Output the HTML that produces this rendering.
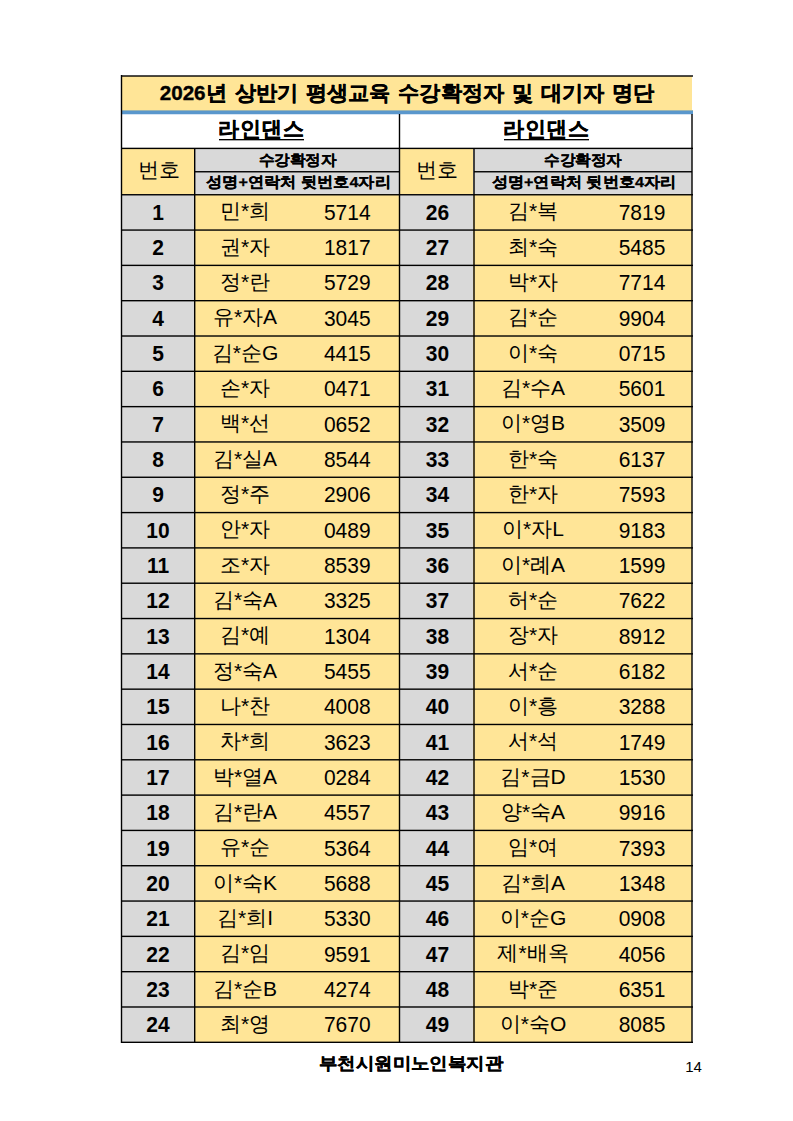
<!DOCTYPE html>
<html><head><meta charset="utf-8"><style>
html,body{margin:0;padding:0;background:#fff;}
body{width:793px;height:1121px;position:relative;overflow:hidden;font-family:"Liberation Sans",sans-serif;color:#000;}
.r{position:absolute;}
.t{position:absolute;text-align:center;white-space:nowrap;height:40px;line-height:40px;}
</style></head><body>
<div class="r" style="left:121px;top:76px;width:571px;height:34px;background:#FFE597;"></div><div class="r" style="left:121px;top:148px;width:73px;height:46px;background:#FFE597;"></div><div class="r" style="left:399px;top:148px;width:74px;height:46px;background:#FFE597;"></div><div class="r" style="left:194px;top:148px;width:205px;height:46px;background:#D9D9D9;"></div><div class="r" style="left:473px;top:148px;width:219px;height:46px;background:#D9D9D9;"></div><div class="r" style="left:121px;top:194px;width:73px;height:848px;background:#D9D9D9;"></div><div class="r" style="left:399px;top:194px;width:74px;height:848px;background:#D9D9D9;"></div><div class="r" style="left:194px;top:194px;width:205px;height:848px;background:#FFE597;"></div><div class="r" style="left:473px;top:194px;width:219px;height:849px;background:#FFE597;"></div><div class="r" style="left:121px;top:75px;width:572px;height:1px;background:rgba(0,0,0,0.70);"></div><div class="r" style="left:121px;top:76px;width:572px;height:1px;background:rgba(0,0,0,0.70);"></div><div class="r" style="left:121px;top:110px;width:572px;height:1px;background:#9DB5B0;"></div><div class="r" style="left:121px;top:111px;width:572px;height:3px;background:#5A97CC;"></div><div class="r" style="left:121px;top:114px;width:572px;height:1px;background:#D5E4F4;"></div><div class="r" style="left:121px;top:147px;width:572px;height:1px;background:rgba(0,0,0,0.30);"></div><div class="r" style="left:121px;top:148px;width:572px;height:1px;background:rgba(0,0,0,1.00);"></div><div class="r" style="left:121px;top:149px;width:572px;height:1px;background:rgba(0,0,0,0.10);"></div><div class="r" style="left:195px;top:171px;width:204px;height:1px;background:rgba(0,0,0,0.95);"></div><div class="r" style="left:195px;top:172px;width:204px;height:1px;background:rgba(0,0,0,0.45);"></div><div class="r" style="left:474px;top:171px;width:218px;height:1px;background:rgba(0,0,0,0.95);"></div><div class="r" style="left:474px;top:172px;width:218px;height:1px;background:rgba(0,0,0,0.45);"></div><div class="r" style="left:121px;top:194px;width:572px;height:1px;background:rgba(0,0,0,0.95);"></div><div class="r" style="left:121px;top:195px;width:572px;height:1px;background:rgba(0,0,0,0.45);"></div><div class="r" style="left:121px;top:229px;width:572px;height:1px;background:rgba(0,0,0,0.63);"></div><div class="r" style="left:121px;top:230px;width:572px;height:1px;background:rgba(0,0,0,0.76);"></div><div class="r" style="left:121px;top:264px;width:572px;height:1px;background:rgba(0,0,0,0.32);"></div><div class="r" style="left:121px;top:265px;width:572px;height:1px;background:rgba(0,0,0,1.00);"></div><div class="r" style="left:121px;top:266px;width:572px;height:1px;background:rgba(0,0,0,0.08);"></div><div class="r" style="left:121px;top:300px;width:572px;height:1px;background:rgba(0,0,0,1.00);"></div><div class="r" style="left:121px;top:301px;width:572px;height:1px;background:rgba(0,0,0,0.39);"></div><div class="r" style="left:121px;top:335px;width:572px;height:1px;background:rgba(0,0,0,0.69);"></div><div class="r" style="left:121px;top:336px;width:572px;height:1px;background:rgba(0,0,0,0.71);"></div><div class="r" style="left:121px;top:370px;width:572px;height:1px;background:rgba(0,0,0,0.38);"></div><div class="r" style="left:121px;top:371px;width:572px;height:1px;background:rgba(0,0,0,1.00);"></div><div class="r" style="left:121px;top:405px;width:572px;height:1px;background:rgba(0,0,0,0.06);"></div><div class="r" style="left:121px;top:406px;width:572px;height:1px;background:rgba(0,0,0,1.00);"></div><div class="r" style="left:121px;top:407px;width:572px;height:1px;background:rgba(0,0,0,0.34);"></div><div class="r" style="left:121px;top:441px;width:572px;height:1px;background:rgba(0,0,0,0.75);"></div><div class="r" style="left:121px;top:442px;width:572px;height:1px;background:rgba(0,0,0,0.65);"></div><div class="r" style="left:121px;top:476px;width:572px;height:1px;background:rgba(0,0,0,0.43);"></div><div class="r" style="left:121px;top:477px;width:572px;height:1px;background:rgba(0,0,0,0.97);"></div><div class="r" style="left:121px;top:511px;width:572px;height:1px;background:rgba(0,0,0,0.11);"></div><div class="r" style="left:121px;top:512px;width:572px;height:1px;background:rgba(0,0,0,1.00);"></div><div class="r" style="left:121px;top:513px;width:572px;height:1px;background:rgba(0,0,0,0.29);"></div><div class="r" style="left:121px;top:547px;width:572px;height:1px;background:rgba(0,0,0,0.80);"></div><div class="r" style="left:121px;top:548px;width:572px;height:1px;background:rgba(0,0,0,0.60);"></div><div class="r" style="left:121px;top:582px;width:572px;height:1px;background:rgba(0,0,0,0.49);"></div><div class="r" style="left:121px;top:583px;width:572px;height:1px;background:rgba(0,0,0,0.91);"></div><div class="r" style="left:121px;top:617px;width:572px;height:1px;background:rgba(0,0,0,0.17);"></div><div class="r" style="left:121px;top:618px;width:572px;height:1px;background:rgba(0,0,0,1.00);"></div><div class="r" style="left:121px;top:619px;width:572px;height:1px;background:rgba(0,0,0,0.23);"></div><div class="r" style="left:121px;top:653px;width:572px;height:1px;background:rgba(0,0,0,0.86);"></div><div class="r" style="left:121px;top:654px;width:572px;height:1px;background:rgba(0,0,0,0.55);"></div><div class="r" style="left:121px;top:688px;width:572px;height:1px;background:rgba(0,0,0,0.54);"></div><div class="r" style="left:121px;top:689px;width:572px;height:1px;background:rgba(0,0,0,0.86);"></div><div class="r" style="left:121px;top:723px;width:572px;height:1px;background:rgba(0,0,0,0.23);"></div><div class="r" style="left:121px;top:724px;width:572px;height:1px;background:rgba(0,0,0,1.00);"></div><div class="r" style="left:121px;top:725px;width:572px;height:1px;background:rgba(0,0,0,0.17);"></div><div class="r" style="left:121px;top:759px;width:572px;height:1px;background:rgba(0,0,0,0.91);"></div><div class="r" style="left:121px;top:760px;width:572px;height:1px;background:rgba(0,0,0,0.49);"></div><div class="r" style="left:121px;top:794px;width:572px;height:1px;background:rgba(0,0,0,0.60);"></div><div class="r" style="left:121px;top:795px;width:572px;height:1px;background:rgba(0,0,0,0.81);"></div><div class="r" style="left:121px;top:829px;width:572px;height:1px;background:rgba(0,0,0,0.28);"></div><div class="r" style="left:121px;top:830px;width:572px;height:1px;background:rgba(0,0,0,1.00);"></div><div class="r" style="left:121px;top:831px;width:572px;height:1px;background:rgba(0,0,0,0.12);"></div><div class="r" style="left:121px;top:865px;width:572px;height:1px;background:rgba(0,0,0,0.97);"></div><div class="r" style="left:121px;top:866px;width:572px;height:1px;background:rgba(0,0,0,0.43);"></div><div class="r" style="left:121px;top:900px;width:572px;height:1px;background:rgba(0,0,0,0.65);"></div><div class="r" style="left:121px;top:901px;width:572px;height:1px;background:rgba(0,0,0,0.75);"></div><div class="r" style="left:121px;top:935px;width:572px;height:1px;background:rgba(0,0,0,0.34);"></div><div class="r" style="left:121px;top:936px;width:572px;height:1px;background:rgba(0,0,0,1.00);"></div><div class="r" style="left:121px;top:937px;width:572px;height:1px;background:rgba(0,0,0,0.07);"></div><div class="r" style="left:121px;top:971px;width:572px;height:1px;background:rgba(0,0,0,1.00);"></div><div class="r" style="left:121px;top:972px;width:572px;height:1px;background:rgba(0,0,0,0.38);"></div><div class="r" style="left:121px;top:1006px;width:572px;height:1px;background:rgba(0,0,0,0.71);"></div><div class="r" style="left:121px;top:1007px;width:572px;height:1px;background:rgba(0,0,0,0.69);"></div><div class="r" style="left:121px;top:1041px;width:572px;height:1px;background:rgba(0,0,0,0.39);"></div><div class="r" style="left:121px;top:1042px;width:572px;height:1px;background:rgba(0,0,0,1.00);"></div><div class="r" style="left:120px;top:75px;width:1px;height:968px;background:rgba(0,0,0,0.20);"></div><div class="r" style="left:121px;top:75px;width:1px;height:968px;background:rgba(0,0,0,1.00);"></div><div class="r" style="left:122px;top:75px;width:1px;height:968px;background:rgba(0,0,0,0.20);"></div><div class="r" style="left:398px;top:114px;width:1px;height:929px;background:rgba(0,0,0,0.20);"></div><div class="r" style="left:399px;top:114px;width:1px;height:929px;background:rgba(0,0,0,1.00);"></div><div class="r" style="left:400px;top:114px;width:1px;height:929px;background:rgba(0,0,0,0.20);"></div><div class="r" style="left:691px;top:114px;width:1px;height:929px;background:rgba(0,0,0,0.70);"></div><div class="r" style="left:692px;top:114px;width:1px;height:929px;background:rgba(0,0,0,0.70);"></div><div class="r" style="left:194px;top:148px;width:1px;height:895px;background:rgba(0,0,0,1.00);"></div><div class="r" style="left:195px;top:148px;width:1px;height:895px;background:rgba(0,0,0,0.40);"></div><div class="r" style="left:473px;top:148px;width:1px;height:895px;background:rgba(0,0,0,0.70);"></div><div class="r" style="left:474px;top:148px;width:1px;height:895px;background:rgba(0,0,0,0.70);"></div><div class="t" style="left:86.75px;top:73.00px;width:640px;font-size:20.5px;font-weight:bold;transform:scaleX(1.008);word-spacing:2px;-webkit-text-stroke:0.35px #000;">2026년 상반기 평생교육 수강확정자 및 대기자 명단</div><div class="t" style="left:111.00px;top:109.00px;width:300px;font-size:21px;font-weight:bold;letter-spacing:0.5px;-webkit-text-stroke:0.3px #000;">라인댄스</div><div class="r" style="left:218.5px;top:139px;width:85px;height:1px;background:#000;"></div><div class="r" style="left:218.5px;top:140px;width:85px;height:1px;background:rgba(0,0,0,0.35);"></div><div class="t" style="left:396.00px;top:109.00px;width:300px;font-size:21px;font-weight:bold;letter-spacing:0.5px;-webkit-text-stroke:0.3px #000;">라인댄스</div><div class="r" style="left:503.5px;top:139px;width:85px;height:1px;background:#000;"></div><div class="r" style="left:503.5px;top:140px;width:85px;height:1px;background:rgba(0,0,0,0.35);"></div><div class="t" style="left:122.00px;top:150.00px;width:73px;font-size:20.5px;font-weight:normal;">번호</div><div class="t" style="left:190.00px;top:139.50px;width:215px;font-size:15px;font-weight:bold;transform:scaleX(1.04);-webkit-text-stroke:0.25px #000;">수강확정자</div><div class="t" style="left:185.50px;top:161.50px;width:225px;font-size:15px;font-weight:bold;transform:scaleX(1.078);-webkit-text-stroke:0.25px #000;">성명+연락처 뒷번호4자리</div><div class="t" style="left:400.00px;top:150.00px;width:74px;font-size:20.5px;font-weight:normal;">번호</div><div class="t" style="left:469.00px;top:139.50px;width:228px;font-size:15px;font-weight:bold;transform:scaleX(1.04);-webkit-text-stroke:0.25px #000;">수강확정자</div><div class="t" style="left:464.50px;top:161.50px;width:238px;font-size:15px;font-weight:bold;transform:scaleX(1.078);-webkit-text-stroke:0.25px #000;">성명+연락처 뒷번호4자리</div><div class="t" style="left:123.00px;top:192.67px;width:70px;font-size:21px;font-weight:bold;transform:scaleY(1.05);">1</div><div class="t" style="left:175.00px;top:191.17px;width:140px;font-size:21px;font-weight:normal;">민*희</div><div class="t" style="left:297.30px;top:192.67px;width:100px;font-size:21px;font-weight:normal;transform:scaleY(1.05);">5714</div><div class="t" style="left:123.00px;top:228.00px;width:70px;font-size:21px;font-weight:bold;transform:scaleY(1.05);">2</div><div class="t" style="left:175.00px;top:226.50px;width:140px;font-size:21px;font-weight:normal;">권*자</div><div class="t" style="left:297.30px;top:228.00px;width:100px;font-size:21px;font-weight:normal;transform:scaleY(1.05);">1817</div><div class="t" style="left:123.00px;top:263.33px;width:70px;font-size:21px;font-weight:bold;transform:scaleY(1.05);">3</div><div class="t" style="left:175.00px;top:261.83px;width:140px;font-size:21px;font-weight:normal;">정*란</div><div class="t" style="left:297.30px;top:263.33px;width:100px;font-size:21px;font-weight:normal;transform:scaleY(1.05);">5729</div><div class="t" style="left:123.00px;top:298.67px;width:70px;font-size:21px;font-weight:bold;transform:scaleY(1.05);">4</div><div class="t" style="left:175.00px;top:297.17px;width:140px;font-size:21px;font-weight:normal;">유*자A</div><div class="t" style="left:297.30px;top:298.67px;width:100px;font-size:21px;font-weight:normal;transform:scaleY(1.05);">3045</div><div class="t" style="left:123.00px;top:334.00px;width:70px;font-size:21px;font-weight:bold;transform:scaleY(1.05);">5</div><div class="t" style="left:175.00px;top:332.50px;width:140px;font-size:21px;font-weight:normal;">김*순G</div><div class="t" style="left:297.30px;top:334.00px;width:100px;font-size:21px;font-weight:normal;transform:scaleY(1.05);">4415</div><div class="t" style="left:123.00px;top:369.33px;width:70px;font-size:21px;font-weight:bold;transform:scaleY(1.05);">6</div><div class="t" style="left:175.00px;top:367.83px;width:140px;font-size:21px;font-weight:normal;">손*자</div><div class="t" style="left:297.30px;top:369.33px;width:100px;font-size:21px;font-weight:normal;transform:scaleY(1.05);">0471</div><div class="t" style="left:123.00px;top:404.67px;width:70px;font-size:21px;font-weight:bold;transform:scaleY(1.05);">7</div><div class="t" style="left:175.00px;top:403.17px;width:140px;font-size:21px;font-weight:normal;">백*선</div><div class="t" style="left:297.30px;top:404.67px;width:100px;font-size:21px;font-weight:normal;transform:scaleY(1.05);">0652</div><div class="t" style="left:123.00px;top:440.00px;width:70px;font-size:21px;font-weight:bold;transform:scaleY(1.05);">8</div><div class="t" style="left:175.00px;top:438.50px;width:140px;font-size:21px;font-weight:normal;">김*실A</div><div class="t" style="left:297.30px;top:440.00px;width:100px;font-size:21px;font-weight:normal;transform:scaleY(1.05);">8544</div><div class="t" style="left:123.00px;top:475.33px;width:70px;font-size:21px;font-weight:bold;transform:scaleY(1.05);">9</div><div class="t" style="left:175.00px;top:473.83px;width:140px;font-size:21px;font-weight:normal;">정*주</div><div class="t" style="left:297.30px;top:475.33px;width:100px;font-size:21px;font-weight:normal;transform:scaleY(1.05);">2906</div><div class="t" style="left:123.00px;top:510.67px;width:70px;font-size:21px;font-weight:bold;transform:scaleY(1.05);">10</div><div class="t" style="left:175.00px;top:509.17px;width:140px;font-size:21px;font-weight:normal;">안*자</div><div class="t" style="left:297.30px;top:510.67px;width:100px;font-size:21px;font-weight:normal;transform:scaleY(1.05);">0489</div><div class="t" style="left:123.00px;top:546.00px;width:70px;font-size:21px;font-weight:bold;transform:scaleY(1.05);">11</div><div class="t" style="left:175.00px;top:544.50px;width:140px;font-size:21px;font-weight:normal;">조*자</div><div class="t" style="left:297.30px;top:546.00px;width:100px;font-size:21px;font-weight:normal;transform:scaleY(1.05);">8539</div><div class="t" style="left:123.00px;top:581.33px;width:70px;font-size:21px;font-weight:bold;transform:scaleY(1.05);">12</div><div class="t" style="left:175.00px;top:579.83px;width:140px;font-size:21px;font-weight:normal;">김*숙A</div><div class="t" style="left:297.30px;top:581.33px;width:100px;font-size:21px;font-weight:normal;transform:scaleY(1.05);">3325</div><div class="t" style="left:123.00px;top:616.67px;width:70px;font-size:21px;font-weight:bold;transform:scaleY(1.05);">13</div><div class="t" style="left:175.00px;top:615.17px;width:140px;font-size:21px;font-weight:normal;">김*예</div><div class="t" style="left:297.30px;top:616.67px;width:100px;font-size:21px;font-weight:normal;transform:scaleY(1.05);">1304</div><div class="t" style="left:123.00px;top:652.00px;width:70px;font-size:21px;font-weight:bold;transform:scaleY(1.05);">14</div><div class="t" style="left:175.00px;top:650.50px;width:140px;font-size:21px;font-weight:normal;">정*숙A</div><div class="t" style="left:297.30px;top:652.00px;width:100px;font-size:21px;font-weight:normal;transform:scaleY(1.05);">5455</div><div class="t" style="left:123.00px;top:687.33px;width:70px;font-size:21px;font-weight:bold;transform:scaleY(1.05);">15</div><div class="t" style="left:175.00px;top:685.83px;width:140px;font-size:21px;font-weight:normal;">나*찬</div><div class="t" style="left:297.30px;top:687.33px;width:100px;font-size:21px;font-weight:normal;transform:scaleY(1.05);">4008</div><div class="t" style="left:123.00px;top:722.67px;width:70px;font-size:21px;font-weight:bold;transform:scaleY(1.05);">16</div><div class="t" style="left:175.00px;top:721.17px;width:140px;font-size:21px;font-weight:normal;">차*희</div><div class="t" style="left:297.30px;top:722.67px;width:100px;font-size:21px;font-weight:normal;transform:scaleY(1.05);">3623</div><div class="t" style="left:123.00px;top:758.00px;width:70px;font-size:21px;font-weight:bold;transform:scaleY(1.05);">17</div><div class="t" style="left:175.00px;top:756.50px;width:140px;font-size:21px;font-weight:normal;">박*열A</div><div class="t" style="left:297.30px;top:758.00px;width:100px;font-size:21px;font-weight:normal;transform:scaleY(1.05);">0284</div><div class="t" style="left:123.00px;top:793.33px;width:70px;font-size:21px;font-weight:bold;transform:scaleY(1.05);">18</div><div class="t" style="left:175.00px;top:791.83px;width:140px;font-size:21px;font-weight:normal;">김*란A</div><div class="t" style="left:297.30px;top:793.33px;width:100px;font-size:21px;font-weight:normal;transform:scaleY(1.05);">4557</div><div class="t" style="left:123.00px;top:828.67px;width:70px;font-size:21px;font-weight:bold;transform:scaleY(1.05);">19</div><div class="t" style="left:175.00px;top:827.17px;width:140px;font-size:21px;font-weight:normal;">유*순</div><div class="t" style="left:297.30px;top:828.67px;width:100px;font-size:21px;font-weight:normal;transform:scaleY(1.05);">5364</div><div class="t" style="left:123.00px;top:864.00px;width:70px;font-size:21px;font-weight:bold;transform:scaleY(1.05);">20</div><div class="t" style="left:175.00px;top:862.50px;width:140px;font-size:21px;font-weight:normal;">이*숙K</div><div class="t" style="left:297.30px;top:864.00px;width:100px;font-size:21px;font-weight:normal;transform:scaleY(1.05);">5688</div><div class="t" style="left:123.00px;top:899.33px;width:70px;font-size:21px;font-weight:bold;transform:scaleY(1.05);">21</div><div class="t" style="left:175.00px;top:897.83px;width:140px;font-size:21px;font-weight:normal;">김*희I</div><div class="t" style="left:297.30px;top:899.33px;width:100px;font-size:21px;font-weight:normal;transform:scaleY(1.05);">5330</div><div class="t" style="left:123.00px;top:934.67px;width:70px;font-size:21px;font-weight:bold;transform:scaleY(1.05);">22</div><div class="t" style="left:175.00px;top:933.17px;width:140px;font-size:21px;font-weight:normal;">김*임</div><div class="t" style="left:297.30px;top:934.67px;width:100px;font-size:21px;font-weight:normal;transform:scaleY(1.05);">9591</div><div class="t" style="left:123.00px;top:970.00px;width:70px;font-size:21px;font-weight:bold;transform:scaleY(1.05);">23</div><div class="t" style="left:175.00px;top:968.50px;width:140px;font-size:21px;font-weight:normal;">김*순B</div><div class="t" style="left:297.30px;top:970.00px;width:100px;font-size:21px;font-weight:normal;transform:scaleY(1.05);">4274</div><div class="t" style="left:123.00px;top:1005.33px;width:70px;font-size:21px;font-weight:bold;transform:scaleY(1.05);">24</div><div class="t" style="left:175.00px;top:1003.83px;width:140px;font-size:21px;font-weight:normal;">최*영</div><div class="t" style="left:297.30px;top:1005.33px;width:100px;font-size:21px;font-weight:normal;transform:scaleY(1.05);">7670</div><div class="t" style="left:402.40px;top:192.67px;width:70px;font-size:21px;font-weight:bold;transform:scaleY(1.05);">26</div><div class="t" style="left:463.00px;top:191.17px;width:140px;font-size:21px;font-weight:normal;">김*복</div><div class="t" style="left:592.00px;top:192.67px;width:100px;font-size:21px;font-weight:normal;transform:scaleY(1.05);">7819</div><div class="t" style="left:402.40px;top:228.00px;width:70px;font-size:21px;font-weight:bold;transform:scaleY(1.05);">27</div><div class="t" style="left:463.00px;top:226.50px;width:140px;font-size:21px;font-weight:normal;">최*숙</div><div class="t" style="left:592.00px;top:228.00px;width:100px;font-size:21px;font-weight:normal;transform:scaleY(1.05);">5485</div><div class="t" style="left:402.40px;top:263.33px;width:70px;font-size:21px;font-weight:bold;transform:scaleY(1.05);">28</div><div class="t" style="left:463.00px;top:261.83px;width:140px;font-size:21px;font-weight:normal;">박*자</div><div class="t" style="left:592.00px;top:263.33px;width:100px;font-size:21px;font-weight:normal;transform:scaleY(1.05);">7714</div><div class="t" style="left:402.40px;top:298.67px;width:70px;font-size:21px;font-weight:bold;transform:scaleY(1.05);">29</div><div class="t" style="left:463.00px;top:297.17px;width:140px;font-size:21px;font-weight:normal;">김*순</div><div class="t" style="left:592.00px;top:298.67px;width:100px;font-size:21px;font-weight:normal;transform:scaleY(1.05);">9904</div><div class="t" style="left:402.40px;top:334.00px;width:70px;font-size:21px;font-weight:bold;transform:scaleY(1.05);">30</div><div class="t" style="left:463.00px;top:332.50px;width:140px;font-size:21px;font-weight:normal;">이*숙</div><div class="t" style="left:592.00px;top:334.00px;width:100px;font-size:21px;font-weight:normal;transform:scaleY(1.05);">0715</div><div class="t" style="left:402.40px;top:369.33px;width:70px;font-size:21px;font-weight:bold;transform:scaleY(1.05);">31</div><div class="t" style="left:463.00px;top:367.83px;width:140px;font-size:21px;font-weight:normal;">김*수A</div><div class="t" style="left:592.00px;top:369.33px;width:100px;font-size:21px;font-weight:normal;transform:scaleY(1.05);">5601</div><div class="t" style="left:402.40px;top:404.67px;width:70px;font-size:21px;font-weight:bold;transform:scaleY(1.05);">32</div><div class="t" style="left:463.00px;top:403.17px;width:140px;font-size:21px;font-weight:normal;">이*영B</div><div class="t" style="left:592.00px;top:404.67px;width:100px;font-size:21px;font-weight:normal;transform:scaleY(1.05);">3509</div><div class="t" style="left:402.40px;top:440.00px;width:70px;font-size:21px;font-weight:bold;transform:scaleY(1.05);">33</div><div class="t" style="left:463.00px;top:438.50px;width:140px;font-size:21px;font-weight:normal;">한*숙</div><div class="t" style="left:592.00px;top:440.00px;width:100px;font-size:21px;font-weight:normal;transform:scaleY(1.05);">6137</div><div class="t" style="left:402.40px;top:475.33px;width:70px;font-size:21px;font-weight:bold;transform:scaleY(1.05);">34</div><div class="t" style="left:463.00px;top:473.83px;width:140px;font-size:21px;font-weight:normal;">한*자</div><div class="t" style="left:592.00px;top:475.33px;width:100px;font-size:21px;font-weight:normal;transform:scaleY(1.05);">7593</div><div class="t" style="left:402.40px;top:510.67px;width:70px;font-size:21px;font-weight:bold;transform:scaleY(1.05);">35</div><div class="t" style="left:463.00px;top:509.17px;width:140px;font-size:21px;font-weight:normal;">이*자L</div><div class="t" style="left:592.00px;top:510.67px;width:100px;font-size:21px;font-weight:normal;transform:scaleY(1.05);">9183</div><div class="t" style="left:402.40px;top:546.00px;width:70px;font-size:21px;font-weight:bold;transform:scaleY(1.05);">36</div><div class="t" style="left:463.00px;top:544.50px;width:140px;font-size:21px;font-weight:normal;">이*례A</div><div class="t" style="left:592.00px;top:546.00px;width:100px;font-size:21px;font-weight:normal;transform:scaleY(1.05);">1599</div><div class="t" style="left:402.40px;top:581.33px;width:70px;font-size:21px;font-weight:bold;transform:scaleY(1.05);">37</div><div class="t" style="left:463.00px;top:579.83px;width:140px;font-size:21px;font-weight:normal;">허*순</div><div class="t" style="left:592.00px;top:581.33px;width:100px;font-size:21px;font-weight:normal;transform:scaleY(1.05);">7622</div><div class="t" style="left:402.40px;top:616.67px;width:70px;font-size:21px;font-weight:bold;transform:scaleY(1.05);">38</div><div class="t" style="left:463.00px;top:615.17px;width:140px;font-size:21px;font-weight:normal;">장*자</div><div class="t" style="left:592.00px;top:616.67px;width:100px;font-size:21px;font-weight:normal;transform:scaleY(1.05);">8912</div><div class="t" style="left:402.40px;top:652.00px;width:70px;font-size:21px;font-weight:bold;transform:scaleY(1.05);">39</div><div class="t" style="left:463.00px;top:650.50px;width:140px;font-size:21px;font-weight:normal;">서*순</div><div class="t" style="left:592.00px;top:652.00px;width:100px;font-size:21px;font-weight:normal;transform:scaleY(1.05);">6182</div><div class="t" style="left:402.40px;top:687.33px;width:70px;font-size:21px;font-weight:bold;transform:scaleY(1.05);">40</div><div class="t" style="left:463.00px;top:685.83px;width:140px;font-size:21px;font-weight:normal;">이*흥</div><div class="t" style="left:592.00px;top:687.33px;width:100px;font-size:21px;font-weight:normal;transform:scaleY(1.05);">3288</div><div class="t" style="left:402.40px;top:722.67px;width:70px;font-size:21px;font-weight:bold;transform:scaleY(1.05);">41</div><div class="t" style="left:463.00px;top:721.17px;width:140px;font-size:21px;font-weight:normal;">서*석</div><div class="t" style="left:592.00px;top:722.67px;width:100px;font-size:21px;font-weight:normal;transform:scaleY(1.05);">1749</div><div class="t" style="left:402.40px;top:758.00px;width:70px;font-size:21px;font-weight:bold;transform:scaleY(1.05);">42</div><div class="t" style="left:463.00px;top:756.50px;width:140px;font-size:21px;font-weight:normal;">김*금D</div><div class="t" style="left:592.00px;top:758.00px;width:100px;font-size:21px;font-weight:normal;transform:scaleY(1.05);">1530</div><div class="t" style="left:402.40px;top:793.33px;width:70px;font-size:21px;font-weight:bold;transform:scaleY(1.05);">43</div><div class="t" style="left:463.00px;top:791.83px;width:140px;font-size:21px;font-weight:normal;">양*숙A</div><div class="t" style="left:592.00px;top:793.33px;width:100px;font-size:21px;font-weight:normal;transform:scaleY(1.05);">9916</div><div class="t" style="left:402.40px;top:828.67px;width:70px;font-size:21px;font-weight:bold;transform:scaleY(1.05);">44</div><div class="t" style="left:463.00px;top:827.17px;width:140px;font-size:21px;font-weight:normal;">임*여</div><div class="t" style="left:592.00px;top:828.67px;width:100px;font-size:21px;font-weight:normal;transform:scaleY(1.05);">7393</div><div class="t" style="left:402.40px;top:864.00px;width:70px;font-size:21px;font-weight:bold;transform:scaleY(1.05);">45</div><div class="t" style="left:463.00px;top:862.50px;width:140px;font-size:21px;font-weight:normal;">김*희A</div><div class="t" style="left:592.00px;top:864.00px;width:100px;font-size:21px;font-weight:normal;transform:scaleY(1.05);">1348</div><div class="t" style="left:402.40px;top:899.33px;width:70px;font-size:21px;font-weight:bold;transform:scaleY(1.05);">46</div><div class="t" style="left:463.00px;top:897.83px;width:140px;font-size:21px;font-weight:normal;">이*순G</div><div class="t" style="left:592.00px;top:899.33px;width:100px;font-size:21px;font-weight:normal;transform:scaleY(1.05);">0908</div><div class="t" style="left:402.40px;top:934.67px;width:70px;font-size:21px;font-weight:bold;transform:scaleY(1.05);">47</div><div class="t" style="left:463.00px;top:933.17px;width:140px;font-size:21px;font-weight:normal;">제*배옥</div><div class="t" style="left:592.00px;top:934.67px;width:100px;font-size:21px;font-weight:normal;transform:scaleY(1.05);">4056</div><div class="t" style="left:402.40px;top:970.00px;width:70px;font-size:21px;font-weight:bold;transform:scaleY(1.05);">48</div><div class="t" style="left:463.00px;top:968.50px;width:140px;font-size:21px;font-weight:normal;">박*준</div><div class="t" style="left:592.00px;top:970.00px;width:100px;font-size:21px;font-weight:normal;transform:scaleY(1.05);">6351</div><div class="t" style="left:402.40px;top:1005.33px;width:70px;font-size:21px;font-weight:bold;transform:scaleY(1.05);">49</div><div class="t" style="left:463.00px;top:1003.83px;width:140px;font-size:21px;font-weight:normal;">이*숙O</div><div class="t" style="left:592.00px;top:1005.33px;width:100px;font-size:21px;font-weight:normal;transform:scaleY(1.05);">8085</div><div class="t" style="left:261.00px;top:1044.00px;width:300px;font-size:17px;font-weight:bold;transform:scaleX(1.083);-webkit-text-stroke:0.35px #000;">부천시원미노인복지관</div><div class="t" style="left:673.50px;top:1047.00px;width:40px;font-size:15px;font-weight:normal;">14</div>
</body></html>
